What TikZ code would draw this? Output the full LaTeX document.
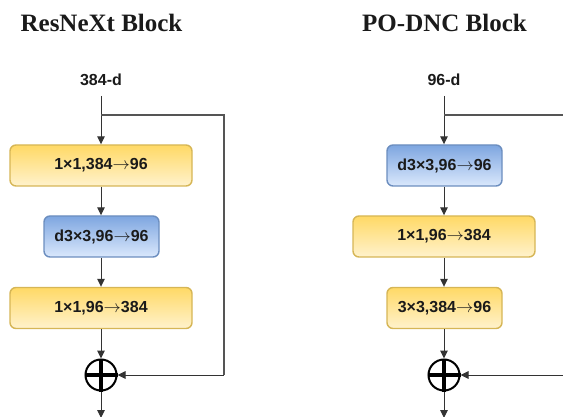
\documentclass[tikz,border=0pt]{standalone}
\usepackage{fontspec}
\setmainfont{Liberation Serif}
\newfontfamily\labfont{Liberation Sans}
\usetikzlibrary{arrows.meta}

\definecolor{ylTop}{HTML}{FFD966}
\definecolor{ylBot}{HTML}{FFF2CC}
\definecolor{ylLine}{HTML}{D6B656}
\definecolor{blTop}{HTML}{7EA6E0}
\definecolor{blBot}{HTML}{DAE8FC}
\definecolor{blLine}{HTML}{6C8EBF}
\definecolor{wire}{HTML}{333333}
\definecolor{skip}{HTML}{555555}
\definecolor{ink}{HTML}{1A1A1A}

% thin arrow used inside the layer labels
\newcommand{\toch}{$\rightarrow$}

\begin{document}
\begin{tikzpicture}[x=1pt,y=-1pt,
  title/.style={font=\bfseries\fontsize{25}{30}\selectfont, text=ink, anchor=base, inner sep=0},
  dimlabel/.style={font=\labfont\bfseries\fontsize{16}{19}\selectfont, text=ink, anchor=base, inner sep=0},
  layer/.style={rounded corners=6pt, line width=1.4pt, minimum height=41pt, inner sep=0,
    font=\labfont\bfseries\fontsize{16}{19}\selectfont, text=ink},
  wide/.style={layer, minimum width=182pt, top color=ylTop, bottom color=ylBot, draw=ylLine},
  narrowy/.style={layer, minimum width=115pt, top color=ylTop, bottom color=ylBot, draw=ylLine},
  narrowb/.style={layer, minimum width=115pt, top color=blTop, bottom color=blBot, draw=blLine},
  plus/.style={circle, draw=black, line width=2pt, minimum size=31pt, inner sep=0},
  cross/.style={line width=3.5pt, black},
  arr/.style={draw=wire, line width=1pt, -{Triangle[length=8pt,width=7.5pt]}},
  wireline/.style={draw=skip, line width=1.4pt},
]
\useasboundingbox (0,0) rectangle (563,417);

% ---------------- ResNeXt block ----------------
\node[title] (t1) at (101.5,32) {ResNeXt Block};
\node[dimlabel] (in1) at (101,86) {384-d};
\coordinate (s1) at (101,96);
\coordinate (b1) at (101,115);
\coordinate (r1a) at (224,115);
\coordinate (r1b) at (224,375);
\node[wide]    (a1) at (101,165.5) {1×1,384\toch96};
\node[narrowb] (a2) at (101.5,236.5) {d3×3,96\toch96};
\node[wide]    (a3) at (101,308) {1×1,96\toch384};
\node[plus]    (p1) at (101,375) {};
\draw[cross] (p1.north) -- (p1.south) (p1.west) -- (p1.east);
\coordinate (o1) at (101,418);

\draw[arr] (s1) -- (a1);
\draw[arr] (a1) -- (a1 |- a2.north);
\draw[arr] (a2.south -| a1) -- (a3);
\draw[arr] (a3) -- (p1);
\draw[arr] (p1) -- (o1);
\draw[wireline] (b1) -- (r1a) -- (r1b);
\draw[arr] (r1b) -- (p1.east);

% ---------------- PO-DNC block ----------------
\node[title] (t2) at (444.5,32) {PO-DNC Block};
\node[dimlabel] (in2) at (444,86) {96-d};
\coordinate (s2) at (444,96);
\coordinate (b2) at (444,115);
\coordinate (r2a) at (566,115);
\coordinate (r2b) at (566,375);
\node[narrowb] (c1) at (444.5,165.5) {d3×3,96\toch96};
\node[wide]    (c2) at (444,236.5) {1×1,96\toch384};
\node[narrowy] (c3) at (444.5,308) {3×3,384\toch96};
\node[plus]    (p2) at (444,375) {};
\draw[cross] (p2.north) -- (p2.south) (p2.west) -- (p2.east);
\coordinate (o2) at (444,418);

\draw[arr] (s2) -- (s2 |- c1.north);
\draw[arr] (c1.south -| s2) -- (s2 |- c2.north);
\draw[arr] (c2.south -| s2) -- (s2 |- c3.north);
\draw[arr] (c3.south -| s2) -- (p2);
\draw[arr] (p2) -- (o2);
\draw[wireline] (b2) -- (r2a);
\draw[arr] (r2b) -- (p2.east);
\end{tikzpicture}
\end{document}
